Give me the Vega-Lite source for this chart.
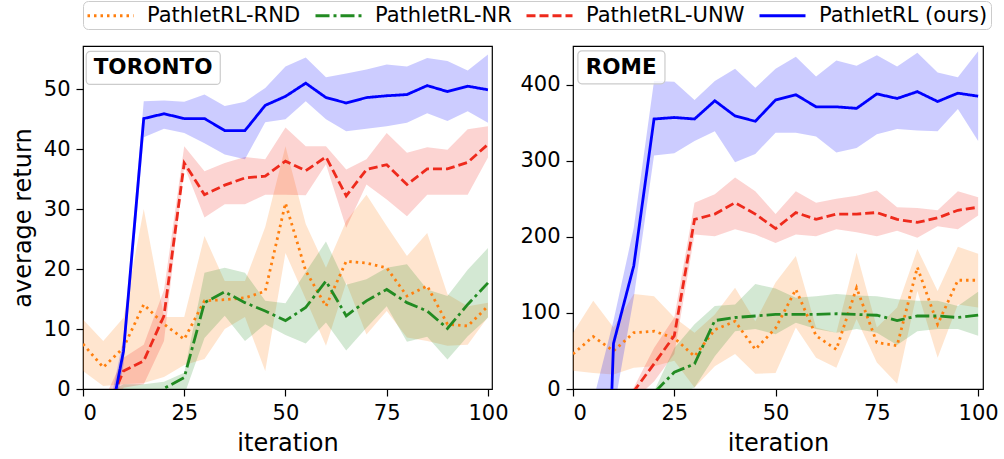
{
"$schema": "https://vega.github.io/schema/vega-lite/v6.json",
"padding": {"left": 10, "top": 0, "right": 0, "bottom": 0},
"spacing": 10,
"data": {"name": "d"},
"datasets": {"d": [
{"city":"TORONTO","method":"PathletRL-RND","iter":0,"mean":7.5,"lo":3,"hi":11.6},
{"city":"TORONTO","method":"PathletRL-RND","iter":5,"mean":3.6,"lo":0.5,"hi":8},
{"city":"TORONTO","method":"PathletRL-RND","iter":10,"mean":6.9,"lo":0.8,"hi":11.9},
{"city":"TORONTO","method":"PathletRL-RND","iter":15,"mean":14.1,"lo":1,"hi":30},
{"city":"TORONTO","method":"PathletRL-RND","iter":20,"mean":10.8,"lo":2,"hi":12},
{"city":"TORONTO","method":"PathletRL-RND","iter":25,"mean":8.3,"lo":4,"hi":12},
{"city":"TORONTO","method":"PathletRL-RND","iter":30,"mean":14.7,"lo":5,"hi":25.5},
{"city":"TORONTO","method":"PathletRL-RND","iter":35,"mean":14.9,"lo":10,"hi":18},
{"city":"TORONTO","method":"PathletRL-RND","iter":40,"mean":15.2,"lo":12,"hi":18},
{"city":"TORONTO","method":"PathletRL-RND","iter":45,"mean":16.3,"lo":3,"hi":27},
{"city":"TORONTO","method":"PathletRL-RND","iter":50,"mean":31,"lo":22.7,"hi":40.5},
{"city":"TORONTO","method":"PathletRL-RND","iter":55,"mean":19.7,"lo":15,"hi":27.5},
{"city":"TORONTO","method":"PathletRL-RND","iter":60,"mean":13.8,"lo":7.2,"hi":20.2},
{"city":"TORONTO","method":"PathletRL-RND","iter":65,"mean":21.3,"lo":17.7,"hi":28},
{"city":"TORONTO","method":"PathletRL-RND","iter":70,"mean":21,"lo":9.1,"hi":32.4},
{"city":"TORONTO","method":"PathletRL-RND","iter":75,"mean":20.2,"lo":13,"hi":27.2},
{"city":"TORONTO","method":"PathletRL-RND","iter":80,"mean":15.5,"lo":8.6,"hi":22.2},
{"city":"TORONTO","method":"PathletRL-RND","iter":85,"mean":17.2,"lo":8,"hi":26},
{"city":"TORONTO","method":"PathletRL-RND","iter":90,"mean":10.8,"lo":7.2,"hi":15.8},
{"city":"TORONTO","method":"PathletRL-RND","iter":95,"mean":10.5,"lo":7.4,"hi":13.8},
{"city":"TORONTO","method":"PathletRL-RND","iter":100,"mean":13.8,"lo":12,"hi":14.4},
{"city":"TORONTO","method":"PathletRL-NR","iter":0,"mean":-5,"lo":-8,"hi":-2},
{"city":"TORONTO","method":"PathletRL-NR","iter":5,"mean":-5,"lo":-8,"hi":-1},
{"city":"TORONTO","method":"PathletRL-NR","iter":10,"mean":-5,"lo":-8,"hi":0.8},
{"city":"TORONTO","method":"PathletRL-NR","iter":15,"mean":-3,"lo":-6,"hi":0.8},
{"city":"TORONTO","method":"PathletRL-NR","iter":20,"mean":0.1,"lo":-3,"hi":1.2},
{"city":"TORONTO","method":"PathletRL-NR","iter":25,"mean":1.9,"lo":-1,"hi":2.7},
{"city":"TORONTO","method":"PathletRL-NR","iter":30,"mean":14.4,"lo":8.5,"hi":19.4},
{"city":"TORONTO","method":"PathletRL-NR","iter":35,"mean":16.2,"lo":12.2,"hi":20.2},
{"city":"TORONTO","method":"PathletRL-NR","iter":40,"mean":14.4,"lo":8,"hi":19.4},
{"city":"TORONTO","method":"PathletRL-NR","iter":45,"mean":13,"lo":10.8,"hi":14.7},
{"city":"TORONTO","method":"PathletRL-NR","iter":50,"mean":11.4,"lo":9,"hi":14.3},
{"city":"TORONTO","method":"PathletRL-NR","iter":55,"mean":13.6,"lo":7.6,"hi":19.5},
{"city":"TORONTO","method":"PathletRL-NR","iter":60,"mean":18,"lo":11.1,"hi":24.6},
{"city":"TORONTO","method":"PathletRL-NR","iter":65,"mean":12.2,"lo":6.4,"hi":17.4},
{"city":"TORONTO","method":"PathletRL-NR","iter":70,"mean":14.7,"lo":10.2,"hi":18.3},
{"city":"TORONTO","method":"PathletRL-NR","iter":75,"mean":16.6,"lo":13.8,"hi":20.2},
{"city":"TORONTO","method":"PathletRL-NR","iter":80,"mean":14.4,"lo":7.9,"hi":20.8},
{"city":"TORONTO","method":"PathletRL-NR","iter":85,"mean":13,"lo":8.7,"hi":16.6},
{"city":"TORONTO","method":"PathletRL-NR","iter":90,"mean":10.1,"lo":4.9,"hi":15.5},
{"city":"TORONTO","method":"PathletRL-NR","iter":95,"mean":14.1,"lo":8.8,"hi":19.9},
{"city":"TORONTO","method":"PathletRL-NR","iter":100,"mean":17.7,"lo":11.9,"hi":23.5},
{"city":"TORONTO","method":"PathletRL-UNW","iter":0,"mean":-8,"lo":-10,"hi":-5},
{"city":"TORONTO","method":"PathletRL-UNW","iter":5,"mean":-5,"lo":-8,"hi":-2},
{"city":"TORONTO","method":"PathletRL-UNW","iter":10,"mean":3,"lo":0.2,"hi":5.2},
{"city":"TORONTO","method":"PathletRL-UNW","iter":15,"mean":4.7,"lo":0.8,"hi":7.4},
{"city":"TORONTO","method":"PathletRL-UNW","iter":20,"mean":12.2,"lo":8,"hi":16.5},
{"city":"TORONTO","method":"PathletRL-UNW","iter":25,"mean":37.7,"lo":37.2,"hi":40.5},
{"city":"TORONTO","method":"PathletRL-UNW","iter":30,"mean":32.4,"lo":28.6,"hi":36.3},
{"city":"TORONTO","method":"PathletRL-UNW","iter":35,"mean":34,"lo":30.8,"hi":37.7},
{"city":"TORONTO","method":"PathletRL-UNW","iter":40,"mean":35.2,"lo":30.8,"hi":38.7},
{"city":"TORONTO","method":"PathletRL-UNW","iter":45,"mean":35.5,"lo":32.4,"hi":38.3},
{"city":"TORONTO","method":"PathletRL-UNW","iter":50,"mean":38,"lo":32.4,"hi":43.6},
{"city":"TORONTO","method":"PathletRL-UNW","iter":55,"mean":36.4,"lo":32.3,"hi":40.5},
{"city":"TORONTO","method":"PathletRL-UNW","iter":60,"mean":38.7,"lo":37.5,"hi":40.5},
{"city":"TORONTO","method":"PathletRL-UNW","iter":65,"mean":32.2,"lo":26.9,"hi":36.6},
{"city":"TORONTO","method":"PathletRL-UNW","iter":70,"mean":36.6,"lo":34.1,"hi":38.3},
{"city":"TORONTO","method":"PathletRL-UNW","iter":75,"mean":37.4,"lo":31.6,"hi":42.7},
{"city":"TORONTO","method":"PathletRL-UNW","iter":80,"mean":34.1,"lo":28.8,"hi":39.4},
{"city":"TORONTO","method":"PathletRL-UNW","iter":85,"mean":36.7,"lo":32.4,"hi":40.3},
{"city":"TORONTO","method":"PathletRL-UNW","iter":90,"mean":36.7,"lo":32.4,"hi":39.9},
{"city":"TORONTO","method":"PathletRL-UNW","iter":95,"mean":37.8,"lo":32.4,"hi":43.3},
{"city":"TORONTO","method":"PathletRL-UNW","iter":100,"mean":40.8,"lo":38.6,"hi":43.8},
{"city":"TORONTO","method":"PathletRL (ours)","iter":0,"mean":-15,"lo":-18,"hi":-12},
{"city":"TORONTO","method":"PathletRL (ours)","iter":5,"mean":-11,"lo":-14,"hi":-8},
{"city":"TORONTO","method":"PathletRL (ours)","iter":10,"mean":6.3,"lo":4,"hi":8.5},
{"city":"TORONTO","method":"PathletRL (ours)","iter":15,"mean":45.1,"lo":42,"hi":48},
{"city":"TORONTO","method":"PathletRL (ours)","iter":20,"mean":45.9,"lo":43.4,"hi":48.1},
{"city":"TORONTO","method":"PathletRL (ours)","iter":25,"mean":45.1,"lo":42.7,"hi":47.9},
{"city":"TORONTO","method":"PathletRL (ours)","iter":30,"mean":45.1,"lo":41,"hi":49.1},
{"city":"TORONTO","method":"PathletRL (ours)","iter":35,"mean":43.1,"lo":39.1,"hi":47.2},
{"city":"TORONTO","method":"PathletRL (ours)","iter":40,"mean":43.1,"lo":38.3,"hi":47.9},
{"city":"TORONTO","method":"PathletRL (ours)","iter":45,"mean":47.3,"lo":44.5,"hi":50.2},
{"city":"TORONTO","method":"PathletRL (ours)","iter":50,"mean":48.8,"lo":45,"hi":53.8},
{"city":"TORONTO","method":"PathletRL (ours)","iter":55,"mean":51,"lo":48,"hi":55.3},
{"city":"TORONTO","method":"PathletRL (ours)","iter":60,"mean":48.6,"lo":45,"hi":52},
{"city":"TORONTO","method":"PathletRL (ours)","iter":65,"mean":47.7,"lo":43,"hi":52.6},
{"city":"TORONTO","method":"PathletRL (ours)","iter":70,"mean":48.6,"lo":43.4,"hi":53.3},
{"city":"TORONTO","method":"PathletRL (ours)","iter":75,"mean":48.9,"lo":43.8,"hi":54.1},
{"city":"TORONTO","method":"PathletRL (ours)","iter":80,"mean":49.1,"lo":44.4,"hi":53.8},
{"city":"TORONTO","method":"PathletRL (ours)","iter":85,"mean":50.6,"lo":46,"hi":55.2},
{"city":"TORONTO","method":"PathletRL (ours)","iter":90,"mean":49.6,"lo":44.7,"hi":54.7},
{"city":"TORONTO","method":"PathletRL (ours)","iter":95,"mean":50.5,"lo":46.3,"hi":53.1},
{"city":"TORONTO","method":"PathletRL (ours)","iter":100,"mean":49.9,"lo":44.4,"hi":55.8},
{"city":"ROME","method":"PathletRL-RND","iter":0,"mean":46,"lo":24,"hi":74},
{"city":"ROME","method":"PathletRL-RND","iter":5,"mean":69,"lo":21,"hi":116},
{"city":"ROME","method":"PathletRL-RND","iter":10,"mean":50,"lo":19,"hi":81},
{"city":"ROME","method":"PathletRL-RND","iter":15,"mean":74,"lo":28,"hi":125},
{"city":"ROME","method":"PathletRL-RND","iter":20,"mean":76,"lo":30,"hi":122},
{"city":"ROME","method":"PathletRL-RND","iter":25,"mean":67,"lo":37,"hi":94},
{"city":"ROME","method":"PathletRL-RND","iter":30,"mean":43,"lo":2,"hi":74},
{"city":"ROME","method":"PathletRL-RND","iter":35,"mean":78,"lo":30,"hi":98},
{"city":"ROME","method":"PathletRL-RND","iter":40,"mean":89,"lo":46,"hi":133},
{"city":"ROME","method":"PathletRL-RND","iter":45,"mean":52,"lo":20,"hi":89},
{"city":"ROME","method":"PathletRL-RND","iter":50,"mean":80,"lo":21,"hi":140},
{"city":"ROME","method":"PathletRL-RND","iter":55,"mean":131,"lo":81,"hi":175},
{"city":"ROME","method":"PathletRL-RND","iter":60,"mean":70,"lo":41,"hi":81},
{"city":"ROME","method":"PathletRL-RND","iter":65,"mean":52,"lo":28,"hi":74},
{"city":"ROME","method":"PathletRL-RND","iter":70,"mean":133,"lo":92,"hi":179},
{"city":"ROME","method":"PathletRL-RND","iter":75,"mean":61,"lo":35,"hi":81},
{"city":"ROME","method":"PathletRL-RND","iter":80,"mean":57,"lo":7,"hi":107},
{"city":"ROME","method":"PathletRL-RND","iter":85,"mean":160,"lo":129,"hi":184},
{"city":"ROME","method":"PathletRL-RND","iter":90,"mean":85,"lo":41,"hi":129},
{"city":"ROME","method":"PathletRL-RND","iter":95,"mean":143,"lo":111,"hi":187},
{"city":"ROME","method":"PathletRL-RND","iter":100,"mean":143,"lo":107,"hi":178},
{"city":"ROME","method":"PathletRL-NR","iter":0,"mean":-60,"lo":-90,"hi":-30},
{"city":"ROME","method":"PathletRL-NR","iter":5,"mean":-60,"lo":-90,"hi":-30},
{"city":"ROME","method":"PathletRL-NR","iter":10,"mean":-60,"lo":-90,"hi":-30},
{"city":"ROME","method":"PathletRL-NR","iter":15,"mean":-40,"lo":-70,"hi":-10},
{"city":"ROME","method":"PathletRL-NR","iter":20,"mean":-5,"lo":-30,"hi":-3},
{"city":"ROME","method":"PathletRL-NR","iter":25,"mean":22,"lo":-10,"hi":54},
{"city":"ROME","method":"PathletRL-NR","iter":30,"mean":33,"lo":2,"hi":85},
{"city":"ROME","method":"PathletRL-NR","iter":35,"mean":90,"lo":43,"hi":109},
{"city":"ROME","method":"PathletRL-NR","iter":40,"mean":94,"lo":76,"hi":111},
{"city":"ROME","method":"PathletRL-NR","iter":45,"mean":96,"lo":79,"hi":138},
{"city":"ROME","method":"PathletRL-NR","iter":50,"mean":98,"lo":72,"hi":132},
{"city":"ROME","method":"PathletRL-NR","iter":55,"mean":98,"lo":87,"hi":120},
{"city":"ROME","method":"PathletRL-NR","iter":60,"mean":98,"lo":79,"hi":122},
{"city":"ROME","method":"PathletRL-NR","iter":65,"mean":99,"lo":74,"hi":125},
{"city":"ROME","method":"PathletRL-NR","iter":70,"mean":98,"lo":79,"hi":123},
{"city":"ROME","method":"PathletRL-NR","iter":75,"mean":97,"lo":74,"hi":122},
{"city":"ROME","method":"PathletRL-NR","iter":80,"mean":90,"lo":58,"hi":118},
{"city":"ROME","method":"PathletRL-NR","iter":85,"mean":96,"lo":76,"hi":116},
{"city":"ROME","method":"PathletRL-NR","iter":90,"mean":96,"lo":79,"hi":116},
{"city":"ROME","method":"PathletRL-NR","iter":95,"mean":94,"lo":79,"hi":109},
{"city":"ROME","method":"PathletRL-NR","iter":100,"mean":97,"lo":70,"hi":128},
{"city":"ROME","method":"PathletRL-UNW","iter":0,"mean":-80,"lo":-100,"hi":-60},
{"city":"ROME","method":"PathletRL-UNW","iter":5,"mean":-80,"lo":-100,"hi":-60},
{"city":"ROME","method":"PathletRL-UNW","iter":10,"mean":-50,"lo":-70,"hi":-30},
{"city":"ROME","method":"PathletRL-UNW","iter":15,"mean":-3,"lo":-15,"hi":2},
{"city":"ROME","method":"PathletRL-UNW","iter":20,"mean":33,"lo":10,"hi":54},
{"city":"ROME","method":"PathletRL-UNW","iter":25,"mean":70,"lo":46,"hi":94},
{"city":"ROME","method":"PathletRL-UNW","iter":30,"mean":223,"lo":203,"hi":245},
{"city":"ROME","method":"PathletRL-UNW","iter":35,"mean":230,"lo":201,"hi":256},
{"city":"ROME","method":"PathletRL-UNW","iter":40,"mean":245,"lo":210,"hi":278},
{"city":"ROME","method":"PathletRL-UNW","iter":45,"mean":230,"lo":203,"hi":260},
{"city":"ROME","method":"PathletRL-UNW","iter":50,"mean":211,"lo":192,"hi":230},
{"city":"ROME","method":"PathletRL-UNW","iter":55,"mean":232,"lo":203,"hi":260},
{"city":"ROME","method":"PathletRL-UNW","iter":60,"mean":223,"lo":201,"hi":245},
{"city":"ROME","method":"PathletRL-UNW","iter":65,"mean":230,"lo":210,"hi":250},
{"city":"ROME","method":"PathletRL-UNW","iter":70,"mean":230,"lo":206,"hi":254},
{"city":"ROME","method":"PathletRL-UNW","iter":75,"mean":232,"lo":201,"hi":261},
{"city":"ROME","method":"PathletRL-UNW","iter":80,"mean":223,"lo":208,"hi":239},
{"city":"ROME","method":"PathletRL-UNW","iter":85,"mean":219,"lo":199,"hi":238},
{"city":"ROME","method":"PathletRL-UNW","iter":90,"mean":225,"lo":214,"hi":235},
{"city":"ROME","method":"PathletRL-UNW","iter":95,"mean":235,"lo":210,"hi":260},
{"city":"ROME","method":"PathletRL-UNW","iter":100,"mean":239,"lo":228,"hi":252},
{"city":"ROME","method":"PathletRL (ours)","iter":0,"mean":-700,"lo":-900,"hi":-100},
{"city":"ROME","method":"PathletRL (ours)","iter":5,"mean":-700,"lo":-900,"hi":-15},
{"city":"ROME","method":"PathletRL (ours)","iter":10,"mean":60,"lo":-30,"hi":90},
{"city":"ROME","method":"PathletRL (ours)","iter":15,"mean":162,"lo":120,"hi":212},
{"city":"ROME","method":"PathletRL (ours)","iter":20,"mean":355,"lo":307,"hi":405},
{"city":"ROME","method":"PathletRL (ours)","iter":25,"mean":357,"lo":310,"hi":404},
{"city":"ROME","method":"PathletRL (ours)","iter":30,"mean":355,"lo":326,"hi":380},
{"city":"ROME","method":"PathletRL (ours)","iter":35,"mean":379,"lo":339,"hi":405},
{"city":"ROME","method":"PathletRL (ours)","iter":40,"mean":359,"lo":298,"hi":421},
{"city":"ROME","method":"PathletRL (ours)","iter":45,"mean":352,"lo":309,"hi":396},
{"city":"ROME","method":"PathletRL (ours)","iter":50,"mean":380,"lo":337,"hi":421},
{"city":"ROME","method":"PathletRL (ours)","iter":55,"mean":387,"lo":337,"hi":437},
{"city":"ROME","method":"PathletRL (ours)","iter":60,"mean":371,"lo":332,"hi":411},
{"city":"ROME","method":"PathletRL (ours)","iter":65,"mean":371,"lo":311,"hi":432},
{"city":"ROME","method":"PathletRL (ours)","iter":70,"mean":369,"lo":317,"hi":425},
{"city":"ROME","method":"PathletRL (ours)","iter":75,"mean":388,"lo":335,"hi":439},
{"city":"ROME","method":"PathletRL (ours)","iter":80,"mean":382,"lo":342,"hi":424},
{"city":"ROME","method":"PathletRL (ours)","iter":85,"mean":391,"lo":340,"hi":442},
{"city":"ROME","method":"PathletRL (ours)","iter":90,"mean":378,"lo":339,"hi":416},
{"city":"ROME","method":"PathletRL (ours)","iter":95,"mean":389,"lo":368,"hi":410},
{"city":"ROME","method":"PathletRL (ours)","iter":100,"mean":385,"lo":326,"hi":444}
]},
"hconcat": [
{
"width": 409, "height": 343,
"layer": [
{"transform": [{"filter": "datum.city === 'TORONTO'"}],
 "mark": {"type": "area", "clip": true, "opacity": 0.2},
 "encoding": {
  "x": {"field": "iter", "type": "quantitative", "scale": {"domain": [0, 101], "nice": false, "zero": false}, "axis": {"values": [0, 25, 50, 75, 100], "title": "iteration"}},
  "y": {"field": "lo", "type": "quantitative", "scale": {"domain": [0, 57.2], "nice": false}, "axis": {"values": [0, 10, 20, 30, 40, 50], "title": "average return"}},
  "y2": {"field": "hi"},
  "fill": {"field": "method", "type": "nominal", "title": null, "scale": {"domain": ["PathletRL-RND", "PathletRL-NR", "PathletRL-UNW", "PathletRL (ours)"], "range": ["#ff7f0e", "#228b22", "#ee2a1c", "#0000ff"]}}
 }},
{"transform": [{"filter": "datum.city === 'TORONTO'"}],
 "mark": {"type": "line", "clip": true, "strokeWidth": 2.8},
 "encoding": {
  "x": {"field": "iter", "type": "quantitative"},
  "y": {"field": "mean", "type": "quantitative"},
  "color": {"field": "method", "type": "nominal", "title": null, "legend": {"orient": "top", "direction": "horizontal"}, "scale": {"domain": ["PathletRL-RND", "PathletRL-NR", "PathletRL-UNW", "PathletRL (ours)"], "range": ["#ff7f0e", "#228b22", "#ee2a1c", "#0000ff"]}},
  "strokeDash": {"field": "method", "type": "nominal", "title": null, "scale": {"domain": ["PathletRL-RND", "PathletRL-NR", "PathletRL-UNW", "PathletRL (ours)"], "range": [[2.5, 4], [14, 4, 3, 4], [9, 4], [1, 0]]}}
 }},
{"data": {"values": [{"label": "TORONTO"}]},
 "mark": {"type": "rect", "cornerRadius": 4, "fill": "white", "fillOpacity": 0.8, "stroke": "#cccccc", "strokeWidth": 1.2},
 "encoding": {"x": {"datum": 0.8}, "x2": {"datum": 33.9}, "y": {"datum": 56.3}, "y2": {"datum": 50.8}}},
{"data": {"values": [{"label": "TORONTO"}]},
 "mark": {"type": "text", "fontWeight": "bold", "fontSize": 21.5, "font": "DejaVu Sans", "color": "black", "baseline": "middle", "align": "center"},
 "encoding": {"x": {"datum": 17.3}, "y": {"datum": 53.5}, "text": {"field": "label"}}}
]
},
{
"width": 410, "height": 343,
"layer": [
{"transform": [{"filter": "datum.city === 'ROME'"}],
 "mark": {"type": "area", "clip": true, "opacity": 0.2},
 "encoding": {
  "x": {"field": "iter", "type": "quantitative", "scale": {"domain": [0, 101.2], "nice": false, "zero": false}, "axis": {"values": [0, 25, 50, 75, 100], "title": "iteration"}},
  "y": {"field": "lo", "type": "quantitative", "scale": {"domain": [0, 451], "nice": false}, "axis": {"values": [0, 100, 200, 300, 400], "title": null}},
  "y2": {"field": "hi"},
  "fill": {"field": "method", "type": "nominal", "title": null}
 }},
{"transform": [{"filter": "datum.city === 'ROME'"}],
 "mark": {"type": "line", "clip": true, "strokeWidth": 2.8},
 "encoding": {
  "x": {"field": "iter", "type": "quantitative"},
  "y": {"field": "mean", "type": "quantitative"},
  "color": {"field": "method", "type": "nominal", "title": null},
  "strokeDash": {"field": "method", "type": "nominal", "title": null}
 }},
{"data": {"values": [{"label": "ROME"}]},
 "mark": {"type": "rect", "cornerRadius": 4, "fill": "white", "fillOpacity": 0.8, "stroke": "#cccccc", "strokeWidth": 1.2},
 "encoding": {"x": {"datum": 1.2}, "x2": {"datum": 22.7}, "y": {"datum": 444.7}, "y2": {"datum": 401.3}}},
{"data": {"values": [{"label": "ROME"}]},
 "mark": {"type": "text", "fontWeight": "bold", "fontSize": 21.5, "font": "DejaVu Sans", "color": "black", "baseline": "middle", "align": "center"},
 "encoding": {"x": {"datum": 11.9}, "y": {"datum": 422}, "text": {"field": "label"}}}
]
}
],
"resolve": {"scale": {"x": "independent", "y": "independent", "color": "shared", "strokeDash": "shared", "fill": "shared"}},
"config": {
 "font": "DejaVu Sans",
 "view": {"stroke": "black", "strokeWidth": 1.2},
 "axis": {"grid": false, "domain": false, "tickColor": "black", "tickSize": 7, "tickWidth": 1.2, "labelColor": "black", "labelFont": "DejaVu Sans", "labelFontSize": 21, "labelPadding": 6, "titleFont": "DejaVu Sans", "titleFontSize": 24, "titleFontWeight": "normal", "titleColor": "black", "titlePadding": 8},
 "legend": {"symbolType": "M-1,0H3.6", "symbolSize": 400, "symbolStrokeWidth": 2.8, "symbolOpacity": 1, "labelFont": "DejaVu Sans", "labelFontSize": 21, "labelColor": "black", "labelOffset": 38, "labelLimit": 400, "columnPadding": 8, "strokeColor": "#cccccc", "cornerRadius": 5, "padding": 3, "fillColor": "white", "offset": 16}
}
}
